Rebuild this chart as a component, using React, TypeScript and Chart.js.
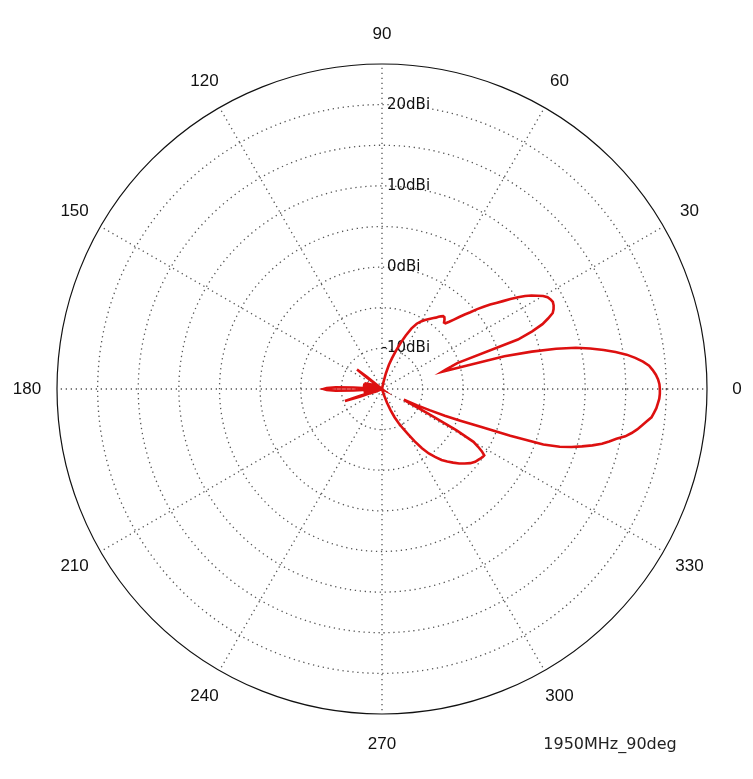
import { useEffect, useRef } from 'react';
import { Chart, registerables } from 'chart.js';

Chart.register(...registerables);

// ---- data ----
const angleTicks = [0, 30, 60, 90, 120, 150, 180, 210, 240, 270, 300, 330];
const ringMin = -15;
const ringMax = 25;
const ringStep = 5;
const ringLabelValues = [20, 10, 0, -10];
const ringLabelTexts = ['20dBi', '10dBi', '0dBi', '-10dBi'];
const caption = '1950MHz_90deg';

// measured pattern: angle (deg, CCW from 0) and gain (dBi)
const patternAngles = [
  0, 1, 2, 3, 4, 5, 6, 7, 8, 9, 10, 11, 12, 13, 14, 15, 16, 17, 18, 19,
  20, 21, 22, 23, 24, 25, 26, 27, 28, 29, 30, 31, 32, 33, 34, 35, 36, 37, 38, 39,
  40, 41, 42, 43, 44, 45, 46, 47, 48, 49, 50, 51, 52, 53, 54, 55, 56, 57, 58,
  60, 62, 64, 66, 68, 70, 72, 74, 76, 78, 80, 100, 120, 140,
  141, 142, 143, 144, 150, 154, 155, 156, 157, 158, 159, 160, 161, 162, 163, 164, 165, 166, 167, 168, 169, 170,
  171, 172, 173, 174, 175, 176,
  177, 178, 179, 180, 181, 182, 183, 184, 185, 186, 187, 188, 189, 190, 191, 192, 193, 194, 195, 196,
  197, 198, 199, 200, 201, 202, 203, 204, 205, 220, 240, 260, 286,
  288, 290, 292, 294, 296, 298, 300, 302, 304, 306, 308, 310, 312, 314, 316, 318, 320,
  322, 323, 324, 325, 326, 327, 328, 329, 330, 331, 332, 333, 334, 335, 336, 337, 338, 339,
  340, 341, 342, 343, 344, 345, 346, 347, 348, 349, 350, 351, 352, 353, 354, 355, 356, 357, 358, 359,
];
const patternGains = [
  19.2, 19.15, 19.0, 18.75, 18.4, 18.0, 17.3, 16.4, 15.4, 14.1, 12.7, 11.1, 9.4, 7.0, 4.0, 0.6, -7.3, -6.8, -6.0, -5.2,
  2.8, 4.8, 6.3, 7.2, 8.0, 8.3, 8.5, 8.6, 8.5, 8.3, 7.9, 7.3, 6.7, 6.0, 5.2, 4.3, 3.4, 2.6, 1.9, 1.1,
  0.3, -0.6, -1.3, -2.0, -2.7, -3.3, -3.75, -3.8, -3.5, -3.3, -3.3, -3.5, -3.7, -4.0, -4.2, -4.4, -4.6, -4.8, -5.0,
  -5.4, -5.9, -6.7, -7.8, -8.9, -10.0, -11.0, -11.9, -13.0, -14.2, -15, -15, -15, -15,
  -12.6, -11.1, -12.6, -15, -15, -15, -14.0, -15, -13.4, -15, -13.0, -15, -12.8, -15, -12.7, -15, -12.7, -15, -12.6, -15, -12.6, -15,
  -12.7, -15, -12.8, -15, -13.0, -15,
  -11.5, -9.3, -8.2, -7.8, -8.2, -9.3, -11.5, -15, -13.0, -15, -12.8, -15, -12.7, -15, -12.8, -15, -12.9, -15, -13.0, -15,
  -12.2, -10.2, -12.2, -15, -13.4, -15, -14.0, -15, -15, -15, -15, -15, -15,
  -14.2, -13.2, -12.2, -11.2, -10.3, -9.5, -8.6, -7.4, -6.2, -5.2, -4.4, -3.6, -3.0, -2.4, -1.8, -1.3, -0.8,
  -0.45, -0.35, -0.25, -0.15, -0.05, 0.0, -0.5, -1.2, -2.0, -4.5, -8.5, -11.5, -12.0, -10.3, -8.6, -6.6, -4.6, -2.0,
  1.8, 6.0, 8.0, 9.4, 10.6, 11.8, 12.9, 13.7, 14.5, 15.5, 16.2, 16.8, 17.3, 17.8, 18.35, 18.6, 18.85, 19.0, 19.15, 19.2,
];

// ---- build radar table (index 0 at top, clockwise, 1 deg per label) ----
const N = 360;
const toIndex = (deg: number) => (((90 - deg) % 360) + 360) % 360;
const radarLabels: string[] = [];
for (let i = 0; i < N; i++) radarLabels.push(String((((90 - i) % 360) + 360) % 360));
const radarData: (number | null)[] = new Array(N).fill(null);
patternAngles.forEach((a, k) => {
  radarData[toIndex(a)] = patternGains[k];
});

const textPlugin = {
  id: 'polarText',
  beforeDatasetsDraw(chart: any) {
    const s = chart.scales.r;
    const ctx = chart.ctx as CanvasRenderingContext2D;
    const outer = s.getDistanceFromCenterForValue(s.max);
    ctx.save();
    ctx.fillStyle = '#111';
    ctx.font = '17px "Liberation Sans", Arial, sans-serif';
    ctx.textAlign = 'center';
    ctx.textBaseline = 'middle';
    angleTicks.forEach((a) => {
      const rad = (a * Math.PI) / 180;
      const r = outer + 30;
      ctx.fillText(String(a), s.xCenter + r * Math.cos(rad), s.yCenter - r * Math.sin(rad));
    });
    ctx.font = '15px "DejaVu Sans", sans-serif';
    ctx.textAlign = 'left';
    ringLabelValues.forEach((v, k) => {
      const d = s.getDistanceFromCenterForValue(v);
      const txt = ringLabelTexts[k];
      const shift = txt.startsWith('-') ? ctx.measureText('-').width : 0;
      ctx.fillText(txt, s.xCenter + 5 - shift, s.yCenter - d);
    });
    ctx.font = '16px "DejaVu Sans", sans-serif';
    ctx.textAlign = 'center';
    ctx.fillStyle = '#222';
    ctx.fillText(caption, s.xCenter + 228, s.yCenter + outer + 31);
    ctx.restore();
  },
};

export default function App() {
  const ref = useRef<HTMLCanvasElement | null>(null);
  useEffect(() => {
    if (!ref.current) return;
    const chart = new Chart(ref.current, {
      type: 'radar',
      data: {
        labels: radarLabels,
        datasets: [
          {
            data: radarData,
            borderColor: '#dd1010',
            borderWidth: 2.6,
            pointRadius: 0,
            pointHoverRadius: 0,
            fill: false,
            spanGaps: true,
            tension: 0,
          } as any,
        ],
      },
      options: {
        animation: false,
        responsive: true,
        maintainAspectRatio: false,
        layout: { padding: { left: 57, right: 46, top: 64, bottom: 65 } },
        plugins: { legend: { display: false }, tooltip: { enabled: false }, title: { display: false } },
        events: [],
        scales: {
          r: {
            min: ringMin,
            max: ringMax,
            startAngle: 0,
            ticks: { stepSize: ringStep, display: false },
            pointLabels: { display: false },
            grid: {
              circular: true,
              color: (c: any) => (c.tick && c.tick.value === ringMax ? '#111' : '#555'),
              lineWidth: (c: any) => (c.tick && c.tick.value === ringMin ? 0 : c.tick && c.tick.value === ringMax ? 1.2 : 1.3),
            },
            border: {
              dash: (c: any) => (c.tick && c.tick.value === ringMax ? [] : [1.3, 3.7]),
            },
            angleLines: {
              display: true,
              color: '#555',
              lineWidth: (c: any) => (c.index % 30 === 0 ? 1.3 : 0),
              borderDash: [1.3, 3.7],
            },
          } as any,
        },
      },
      plugins: [textPlugin],
    });
    return () => chart.destroy();
  }, []);
  return (
    <div style={{ position: 'absolute', left: 0, top: 0, width: 753, height: 779, background: '#fff' }}>
      <canvas ref={ref} />
    </div>
  );
}
